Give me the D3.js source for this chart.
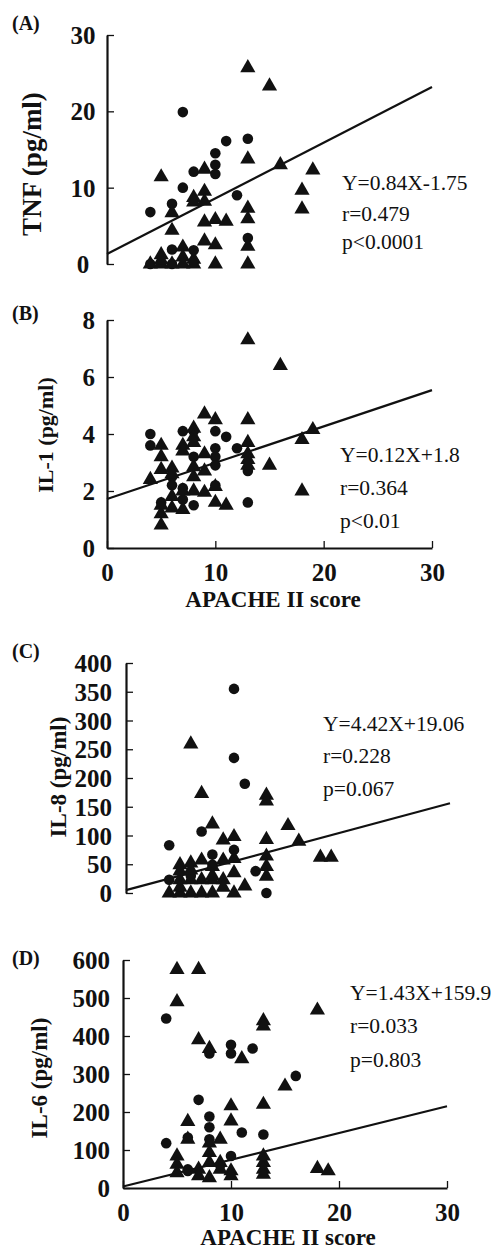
<!DOCTYPE html>
<html>
<head>
<meta charset="utf-8">
<script src="https://cdn.jsdelivr.net/npm/d3@7"></script>
<style>
  html, body { margin: 0; padding: 0; background: #fff; }
  svg { display: block; }
</style>
</head>
<body>
<script>
// 共用的 x 轴刻度 (APACHE II score)
const xTicks = [0, 10, 20, 30];

// (A) TNF
const tnfYTicks = [0, 10, 20, 30];
const tnfCircles = [[4,6.8],[7,19.9],[7,10],[8,12.1],[10,14.5],[10,13],[10,11.8],[11,16.1],[13,16.4],
  [12,9],[6,7.9],[6,1.9],[8,1.8],[13,3.4],[4,0],[6,0],[8,0.3]];
const tnfTriangles = [[13,25.7],[15,23.3],[5,11.4],[9,12.4],[13,13.75],[16,13],[19,12.3],[18,9.65],[18,7.2],
  [8,8.7],[8,8.1],[9,9.5],[9,8.2],[6,6.7],[6,4.4],[9,5.5],[10,5.8],[11,5.6],[13,7.3],[13,5.9],[9,3.0],
  [10,2.5],[13,2.3],[5,1.2],[7,2.2],[7,0.9],[8,0.6],[4,0],[5,0],[6,0],[7,0],[8,0],[10,0],[13,0],[5,0.5]];
const tnfFit = [[0,1.3],[30,23.2]];
const tnfStats = ["Y=0.84X-1.75", "r=0.479", "p<0.0001"];

// (B) IL-1
const il1YTicks = [0, 2, 4, 6, 8];
const il1Circles = [[4,4.0],[4,3.6],[7,4.1],[10,4.1],[11,3.9],[12,3.5],[10,3.5],[10,3.2],[10,2.9],[8,3.2],
  [6,2.5],[6,2.2],[7,2.1],[7,1.7],[8,1.5],[10,2.2],[13,1.6],[13,2.7],[5,1.6],[8,4.1]];
const il1Triangles = [[13,7.3],[16,6.4],[9,4.7],[10,4.5],[13,4.5],[8,4.2],[8,3.9],[8,3.7],[19,4.15],[18,3.8],
  [5,3.6],[5,3.2],[5,2.75],[7,3.6],[7,3.4],[4,2.4],[6,2.8],[6,2.6],[9,3.3],[9,2.7],[8,2.85],[8,2.5],
  [13,3.7],[13,3.3],[13,3.1],[13,2.9],[15,2.9],[18,2.0],[6,1.8],[6,1.4],[7,2.0],[7,1.35],[8,2.0],[9,1.95],
  [10,1.6],[11,1.5],[5,1.2],[5,0.8],[5,1.5],[10,2.15]];
const il1Fit = [[0,1.72],[30,5.54]];
const il1Stats = ["Y=0.12X+1.8", "r=0.364", "p<0.01"];

// (C) IL-8
const il8YTicks = [0, 50, 100, 150, 200, 250, 300, 350, 400];
const il8Circles = [[10,355],[10,235],[11,190],[7,107],[4,83],[4,23],[12,38],[13,0],[10,75],[8,67],[8,49],[6,30]];
const il8Triangles = [[6,259],[7,173],[8,120],[13,170],[13,160],[15,117],[16,90],[18,62],[19,62],[9,92],[10,98],
  [13,93],[13,64],[13,46],[13,29],[7,57],[6,52],[5,49],[9,57],[10,35],[11,12],[10,0],[8,46],[8,23],[8,0],
  [9,23],[9,10],[7,23],[7,0],[6,23],[6,0],[5,23],[5,0],[5,10],[4,0],[5,38],[10,60],[6,40],[8,30]];
const il8Fit = [[0,5],[30,156]];
const il8Stats = ["Y=4.42X+19.06", "r=0.228", "p=0.067"];

// (D) IL-6
const il6YTicks = [0, 100, 200, 300, 400, 500, 600];
const il6Circles = [[4,446],[4,118],[7,232],[8,188],[8,160],[8,128],[8,354],[10,377],[10,354],[12,367],[16,295],
  [11,146],[13,141],[10,84],[6,133],[6,49],[6,45],[9,60]];
const il6Triangles = [[5,575],[7,575],[5,490],[7,390],[8,367],[11,340],[13,440],[13,426],[18,468],[15,268],
  [13,220],[10,216],[10,176],[6,175],[9,128],[18,51],[19,45],[5,84],[5,62],[5,40],[6,128],[7,49],[7,32],
  [8,93],[8,67],[8,27],[9,67],[9,49],[10,45],[10,32],[13,84],[13,67],[13,49],[13,36],[8,118]];
const il6Fit = [[0,4],[30,215]];
const il6Stats = ["Y=1.43X+159.9", "r=0.033", "p=0.803"];

const FONT = '"Liberation Serif", "Times New Roman", Times, serif';
const INK = "#111";

// 各面板的版式 (位置, 字号)
const panels = [
  { tag: "(A)", tagY: 30, yTitle: "TNF (pg/ml)", yTitleX: 41, yTitleY: 164, yTitleSize: 27,
    xr: [107, 432], yr: [264, 35], yMax: 30, yTicks: tnfYTicks, tickAnchor: "middle", tickX: 83,
    showX: false, circles: tnfCircles, triangles: tnfTriangles, fit: tnfFit,
    stats: tnfStats, statsX: 342, statsY: [190, 221, 249] },
  { tag: "(B)", tagY: 320, yTitle: "IL-1 (pg/ml)", yTitleX: 53, yTitleY: 435, yTitleSize: 22,
    xr: [107, 432], yr: [548, 320], yMax: 8, yTicks: il1YTicks, tickAnchor: "end", tickX: 95,
    showX: true, xTitleX: 273, xTitleY: 607, circles: il1Circles, triangles: il1Triangles, fit: il1Fit,
    stats: il1Stats, statsX: 340, statsY: [462, 495, 528] },
  { tag: "(C)", tagY: 658, yTitle: "IL-8 (pg/ml)", yTitleX: 66, yTitleY: 777, yTitleSize: 23,
    xr: [126, 450], yr: [893, 663], yMax: 400, yTicks: il8YTicks, tickAnchor: "end", tickX: 112,
    showX: false, circles: il8Circles, triangles: il8Triangles, fit: il8Fit,
    stats: il8Stats, statsX: 323, statsY: [731, 763, 796] },
  { tag: "(D)", tagY: 965, yTitle: "IL-6 (pg/ml)", yTitleX: 47, yTitleY: 1078, yTitleSize: 23,
    xr: [123, 447], yr: [1188, 960], yMax: 600, yTicks: il6YTicks, tickAnchor: "end", tickX: 110,
    showX: true, xTitleX: 288, xTitleY: 1245, circles: il6Circles, triangles: il6Triangles, fit: il6Fit,
    stats: il6Stats, statsX: 350, statsY: [1000, 1033, 1067] }
];

const svg = d3.select("body").append("svg")
  .attr("width", 495).attr("height", 1251)
  .style("background", "#fff");

const circleSym = d3.symbol().type(d3.symbolCircle).size(88)();
const triSym = d3.symbol().type(d3.symbolTriangle).size(100)();

function drawPanel(p) {
  const g = svg.append("g");
  const x = d3.scaleLinear().domain([0, 30]).range(p.xr);
  const y = d3.scaleLinear().domain([0, p.yMax]).range(p.yr);

  // 面板标签
  g.append("text")
    .attr("x", 12).attr("y", p.tagY)
    .attr("font-family", FONT).attr("font-weight", "bold").attr("font-size", 20)
    .attr("fill", INK).text(p.tag);

  // y 轴 (刻度朝内)
  const yAxis = g.append("g")
    .attr("transform", `translate(${p.xr[0]},0)`)
    .call(d3.axisLeft(y).tickValues(p.yTicks).tickSizeInner(-7).tickSizeOuter(0)
      .tickFormat(d3.format("d")));
  yAxis.select(".domain").attr("stroke", INK).attr("stroke-width", 2.2);
  yAxis.selectAll(".tick line").attr("stroke", INK).attr("stroke-width", 1.3);
  yAxis.selectAll(".tick text")
    .attr("font-family", FONT).attr("font-weight", "bold").attr("font-size", 25)
    .attr("fill", INK)
    .attr("text-anchor", p.tickAnchor)
    .attr("x", p.tickX - p.xr[0])
    .attr("dy", "0.34em");

  // y 轴标题
  g.append("text")
    .attr("transform", `translate(${p.yTitleX},${p.yTitleY}) rotate(-90)`)
    .attr("text-anchor", "middle")
    .attr("font-family", FONT).attr("font-weight", "bold").attr("font-size", p.yTitleSize)
    .attr("fill", INK).text(p.yTitle);

  // x 轴 (只有 B 和 D)
  if (p.showX) {
    const xAxis = g.append("g")
      .attr("transform", `translate(0,${p.yr[0]})`)
      .call(d3.axisBottom(x).tickValues(xTicks).tickSizeInner(-7).tickSizeOuter(0)
        .tickPadding(15).tickFormat(d3.format("d")));
    xAxis.select(".domain").attr("stroke", INK).attr("stroke-width", 1.8);
    xAxis.selectAll(".tick line").attr("stroke", INK).attr("stroke-width", 1.3);
    xAxis.selectAll(".tick text")
      .attr("font-family", FONT).attr("font-weight", "bold").attr("font-size", 25)
      .attr("fill", INK);

    g.append("text")
      .attr("x", p.xTitleX).attr("y", p.xTitleY)
      .attr("text-anchor", "middle")
      .attr("font-family", FONT).attr("font-weight", "bold").attr("font-size", 23)
      .attr("fill", INK).text("APACHE II score");
  }

  // 回归线
  g.append("path")
    .datum(p.fit)
    .attr("d", d3.line().x(d => x(d[0])).y(d => y(d[1])))
    .attr("fill", "none").attr("stroke", INK).attr("stroke-width", 2.2);

  // 散点: 圆点 和 三角
  g.append("g").selectAll("path")
    .data(p.circles)
    .join("path")
    .attr("transform", d => `translate(${x(d[0])},${y(d[1])})`)
    .attr("d", circleSym).attr("fill", INK);

  g.append("g").selectAll("path")
    .data(p.triangles)
    .join("path")
    .attr("transform", d => `translate(${x(d[0])},${y(d[1])})`)
    .attr("d", triSym).attr("fill", INK);

  // 回归方程文字
  g.append("g").selectAll("text")
    .data(p.stats)
    .join("text")
    .attr("x", p.statsX)
    .attr("y", (d, i) => p.statsY[i])
    .attr("font-family", FONT).attr("font-size", 21.5)
    .attr("fill", INK)
    .text(d => d);
}

panels.forEach(drawPanel);
</script>
</body>
</html>
